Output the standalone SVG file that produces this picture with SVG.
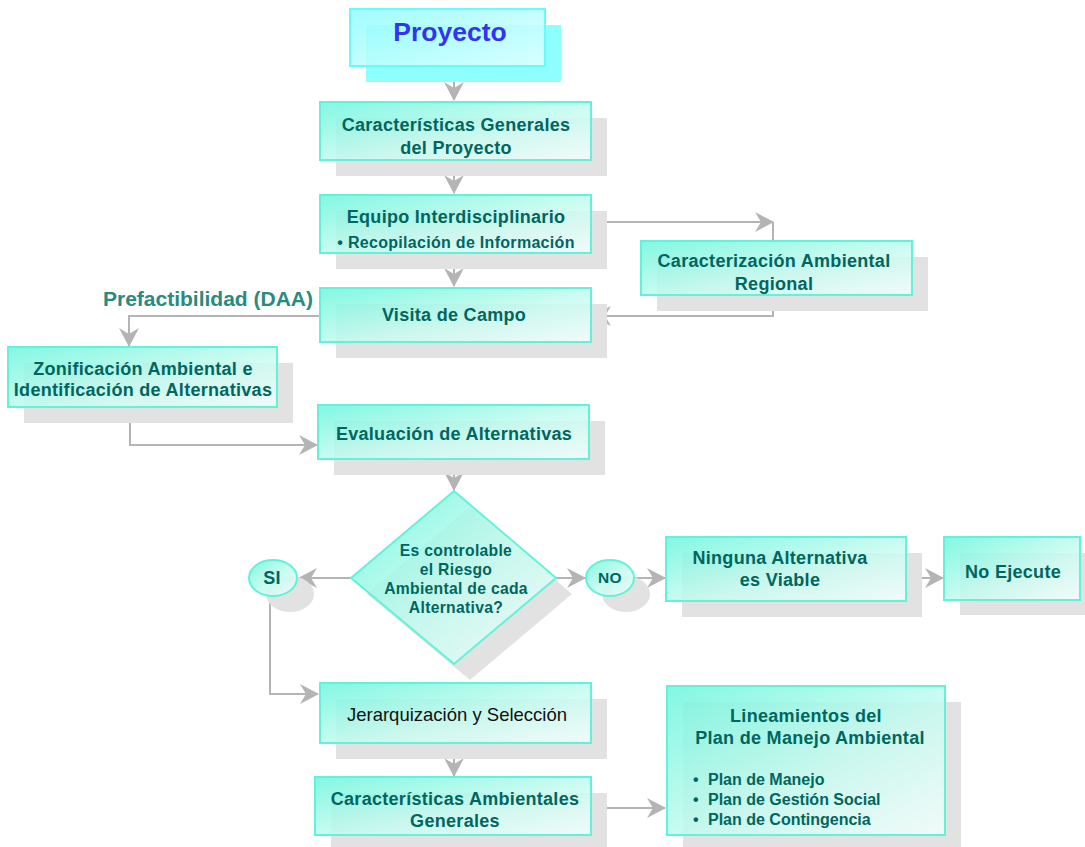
<svg xmlns="http://www.w3.org/2000/svg" width="1085" height="847" viewBox="0 0 1085 847">
  <defs>
    <linearGradient id="boxFill" x1="0" y1="0" x2="1" y2="1">
      <stop offset="0" stop-color="#6cf6dd"/>
      <stop offset="0.55" stop-color="#c4fbef"/>
      <stop offset="1" stop-color="#f4fffd"/>
    </linearGradient>
    <linearGradient id="topFill" x1="0" y1="0" x2="1" y2="1">
      <stop offset="0" stop-color="#8ffcfc"/>
      <stop offset="1" stop-color="#e6ffff"/>
    </linearGradient>
    <marker id="arrow" viewBox="0 0 20 22" refX="18" refY="11" markerWidth="20" markerHeight="22" markerUnits="userSpaceOnUse" orient="auto">
      <path d="M0,1 L19,11 L0,21 L6,11 Z" fill="#b4b4b4"/>
    </marker>
  </defs>
  <style>
    .shadow { fill: #e2e2e2; }
    .box { fill: url(#boxFill); fill-opacity: 0.85; stroke: #62f2da; stroke-width: 2; }
    .t { font-family: "Liberation Sans", Arial, sans-serif; font-weight: bold; fill: #006660; text-anchor: middle; letter-spacing: 0.3px; }
    .m { font-size: 18px; }
    .s { font-size: 16px; }
    .d { font-size: 15.7px; }
    .b { font-family: "Liberation Sans", Arial, sans-serif; font-weight: bold; fill: #006660; font-size: 16px; }
    .conn { fill: none; stroke: #b4b4b4; stroke-width: 2; }
  </style>

  <rect width="1085" height="847" fill="#ffffff"/>

  <!-- connectors -->
  <g id="connectors">
    <path class="conn" d="M454,66 V100" marker-end="url(#arrow)"/>
    <path class="conn" d="M454,160 V193" marker-end="url(#arrow)"/>
    <path class="conn" d="M591,222 H773" marker-end="url(#arrow)"/>
    <path class="conn" d="M773,222 V241"/>
    <path class="conn" d="M773,295 V316 H593" marker-end="url(#arrow)"/>
    <path class="conn" d="M454,253 V286" marker-end="url(#arrow)"/>
    <path class="conn" d="M320,316 H129 V346" marker-end="url(#arrow)"/>
    <path class="conn" d="M130,407 V445 H317" marker-end="url(#arrow)"/>
    <path class="conn" d="M454,459 V490" marker-end="url(#arrow)"/>
    <path class="conn" d="M351,578 H299" marker-end="url(#arrow)"/>
    <path class="conn" d="M556,578 H585" marker-end="url(#arrow)"/>
    <path class="conn" d="M634,578 H665" marker-end="url(#arrow)"/>
    <path class="conn" d="M906,578 H943" marker-end="url(#arrow)"/>
    <path class="conn" d="M270,596 V694 H318" marker-end="url(#arrow)"/>
    <path class="conn" d="M454,743 V776" marker-end="url(#arrow)"/>
    <path class="conn" d="M591,808 H665" marker-end="url(#arrow)"/>
  </g>

  <g id="proyecto">
    <rect x="366" y="25" width="195" height="57" fill="#8ffefe"/>
    <rect x="350" y="9" width="195" height="57" fill="url(#topFill)" fill-opacity="0.85" stroke="#66fcfc" stroke-width="2"/>
    <text x="450" y="41" font-family="Liberation Sans, Arial, sans-serif" font-weight="bold" font-size="26.5" fill="#3333f0" text-anchor="middle">Proyecto</text>
  </g>

  <g id="caracteristicas-generales">
    <rect class="shadow" x="336" y="118" width="271" height="58"/>
    <rect class="box" x="320" y="102" width="271" height="58"/>
    <text class="t m" x="456" y="131">Características Generales</text>
    <text class="t m" x="456" y="154">del Proyecto</text>
  </g>

  <g id="equipo">
    <rect class="shadow" x="336" y="211" width="271" height="58"/>
    <rect class="box" x="320" y="195" width="271" height="58"/>
    <text class="t m" x="456" y="223">Equipo Interdisciplinario</text>
    <text class="t s" x="456" y="248">• Recopilación de Información</text>
  </g>

  <g id="caracterizacion">
    <rect class="shadow" x="657" y="257" width="271" height="54"/>
    <rect class="box" x="641" y="241" width="271" height="54"/>
    <text class="t m" x="774" y="267">Caracterización Ambiental</text>
    <text class="t m" x="774" y="290">Regional</text>
  </g>

  <g id="visita">
    <rect class="shadow" x="336" y="304" width="271" height="54"/>
    <rect class="box" x="320" y="288" width="271" height="54"/>
    <text class="t m" x="454" y="321">Visita de Campo</text>
  </g>

  <text id="prefactibilidad" x="313" y="306" font-family="Liberation Sans, Arial, sans-serif" font-weight="bold" font-size="21" fill="#2a8a80" text-anchor="end">Prefactibilidad (DAA)</text>

  <g id="zonificacion">
    <rect class="shadow" x="24" y="363" width="269" height="60"/>
    <rect class="box" x="8" y="347" width="269" height="60"/>
    <text class="t m" x="143" y="375">Zonificación Ambiental e</text>
    <text class="t m" x="143" y="396">Identificación de Alternativas</text>
  </g>

  <g id="evaluacion">
    <rect class="shadow" x="334" y="421" width="271" height="54"/>
    <rect class="box" x="318" y="405" width="271" height="54"/>
    <text class="t m" x="454" y="440">Evaluación de Alternativas</text>
  </g>

  <g id="decision">
    <polygon class="shadow" points="470,507 572,594 470,680 367,594"/>
    <polygon class="box" points="454,491 556,578 454,664 351,578"/>
    <text class="t d" x="456" y="556">Es controlable</text>
    <text class="t d" x="456" y="575">el Riesgo</text>
    <text class="t d" x="456" y="594">Ambiental de cada</text>
    <text class="t d" x="456" y="613">Alternativa?</text>
  </g>

  <g id="si">
    <ellipse class="shadow" cx="290" cy="594" rx="24" ry="18"/>
    <ellipse class="box" cx="273" cy="578" rx="24" ry="18"/>
    <text class="t" x="272" y="584" font-size="18">SI</text>
  </g>

  <g id="no">
    <ellipse class="shadow" cx="626" cy="594" rx="24" ry="18"/>
    <ellipse class="box" cx="610" cy="578" rx="24" ry="18"/>
    <text class="t" x="610" y="583" font-size="15.5">NO</text>
  </g>

  <g id="ninguna">
    <rect class="shadow" x="682" y="553" width="240" height="64"/>
    <rect class="box" x="666" y="537" width="240" height="64"/>
    <text class="t m" x="780" y="564">Ninguna Alternativa</text>
    <text class="t m" x="780" y="586">es Viable</text>
  </g>

  <g id="no-ejecute">
    <rect class="shadow" x="960" y="553" width="125" height="62"/>
    <rect class="box" x="944" y="537" width="136" height="63"/>
    <text class="t m" x="1013" y="578">No Ejecute</text>
  </g>

  <g id="jerarquizacion">
    <rect class="shadow" x="336" y="699" width="271" height="60"/>
    <rect class="box" x="320" y="683" width="271" height="60"/>
    <text x="457" y="721" font-family="Liberation Sans, Arial, sans-serif" font-size="18.5" fill="#111111" text-anchor="middle">Jerarquización y Selección</text>
  </g>

  <g id="caracteristicas-ambientales">
    <rect class="shadow" x="331" y="793" width="276" height="58"/>
    <rect class="box" x="315" y="777" width="276" height="58"/>
    <text class="t m" x="455" y="805">Características Ambientales</text>
    <text class="t m" x="455" y="827">Generales</text>
  </g>

  <g id="lineamientos">
    <rect class="shadow" x="683" y="702" width="278" height="149"/>
    <rect class="box" x="667" y="686" width="278" height="149"/>
    <text class="t m" x="806" y="722">Lineamientos del</text>
    <text class="t m" x="810" y="744">Plan de Manejo Ambiental</text>
    <text class="b" x="693" y="785">•</text>
    <text class="b" x="708" y="785">Plan de Manejo</text>
    <text class="b" x="693" y="805">•</text>
    <text class="b" x="708" y="805">Plan de Gestión Social</text>
    <text class="b" x="693" y="825">•</text>
    <text class="b" x="708" y="825">Plan de Contingencia</text>
  </g>
</svg>
